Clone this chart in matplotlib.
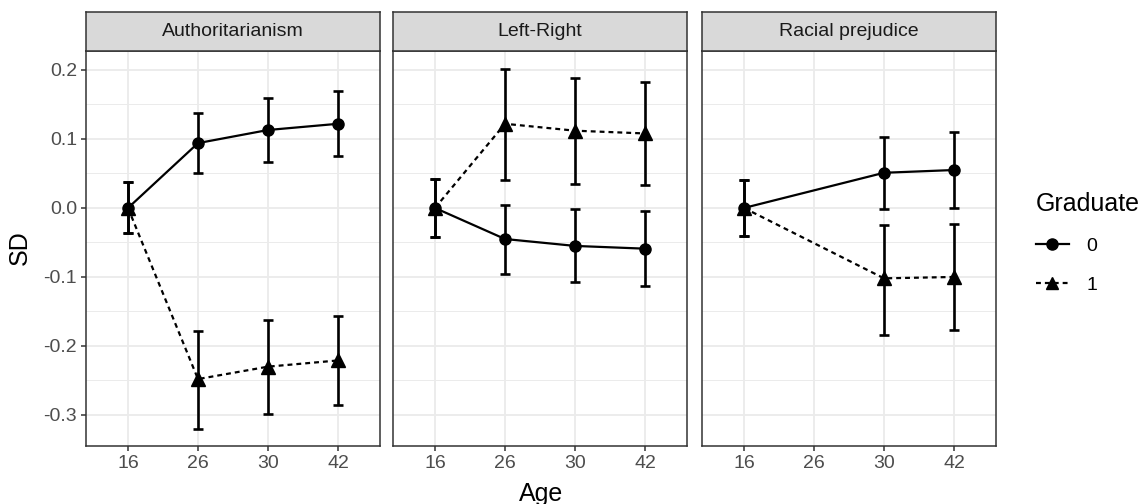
import matplotlib.pyplot as plt
import numpy as np

plt.rcParams["font.family"] = ["Liberation Sans", "DejaVu Sans"]

# data
ages = ["16", "26", "30", "42"]
panels = ["Authoritarianism", "Left-Right", "Racial prejudice"]
groups = ["0", "1"]

auth_g0 = [0.0, 0.094, 0.113, 0.122]
auth_g0_lo = [-0.037, 0.050, 0.066, 0.075]
auth_g0_hi = [0.037, 0.138, 0.159, 0.170]
auth_g1 = [0.0, -0.248, -0.230, -0.221]
auth_g1_lo = [-0.037, -0.320, -0.298, -0.286]
auth_g1_hi = [0.037, -0.178, -0.163, -0.156]

lr_g0 = [0.0, -0.045, -0.055, -0.059]
lr_g0_lo = [-0.042, -0.096, -0.108, -0.113]
lr_g0_hi = [0.042, 0.004, -0.002, -0.005]
lr_g1 = [0.0, 0.122, 0.112, 0.108]
lr_g1_lo = [-0.042, 0.040, 0.035, 0.033]
lr_g1_hi = [0.042, 0.202, 0.189, 0.182]

rp_g0 = [0.0, np.nan, 0.051, 0.055]
rp_g0_lo = [-0.041, np.nan, -0.002, 0.000]
rp_g0_hi = [0.041, np.nan, 0.103, 0.110]
rp_g1 = [0.0, np.nan, -0.102, -0.100]
rp_g1_lo = [-0.041, np.nan, -0.184, -0.177]
rp_g1_hi = [0.041, np.nan, -0.025, -0.023]

series = {
    "Authoritarianism": [(auth_g0, auth_g0_lo, auth_g0_hi), (auth_g1, auth_g1_lo, auth_g1_hi)],
    "Left-Right": [(lr_g0, lr_g0_lo, lr_g0_hi), (lr_g1, lr_g1_lo, lr_g1_hi)],
    "Racial prejudice": [(rp_g0, rp_g0_lo, rp_g0_hi), (rp_g1, rp_g1_lo, rp_g1_hi)],
}

dash = (0, (2.2, 1.8))
styles = [dict(marker="o", ms=8, ls="-"), dict(marker="^", ms=9.5, ls=dash)]

W, H = 1142, 504
fig = plt.figure(figsize=(W / 100, H / 100), dpi=100)

lefts = [86, 393, 702]
pw = 294
top, bottom, strip_top = 51, 446, 12
border = "#333333"

for i, name in enumerate(panels):
    ax = fig.add_axes([lefts[i] / W, 1 - bottom / H, pw / W, (bottom - top) / H])
    sax = fig.add_axes([lefts[i] / W, 1 - top / H, pw / W, (top - strip_top) / H])
    sax.set_facecolor("#D9D9D9")
    sax.set_xticks([])
    sax.set_yticks([])
    for s in sax.spines.values():
        s.set_color(border)
        s.set_linewidth(1.1)
    sax.text(0.5, 0.5, name, ha="center", va="center", fontsize=14, color="#1A1A1A",
             transform=sax.transAxes)

    x = np.arange(len(ages))
    for g, (vals, lo, hi) in enumerate(series[name]):
        vals = np.array(vals, dtype=float)
        lo = np.array(lo, dtype=float)
        hi = np.array(hi, dtype=float)
        ok = ~np.isnan(vals)
        st = styles[g]
        ax.errorbar(x[ok], vals[ok], yerr=[vals[ok] - lo[ok], hi[ok] - vals[ok]],
                    fmt="none", ecolor="black", elinewidth=1.9, capsize=3.5, capthick=1.9, zorder=3)
        ax.plot(x[ok], vals[ok], color="black", lw=1.6, linestyle=st["ls"], zorder=4)
        ax.plot(x[ok], vals[ok], color="black", lw=0, marker=st["marker"], ms=st["ms"], zorder=5)

    ax.set_xlim(-0.6, 3.6)
    ax.set_ylim(-0.345, 0.2275)
    ax.set_xticks(x)
    ax.set_xticklabels(ages)
    ax.set_yticks([-0.3, -0.2, -0.1, 0.0, 0.1, 0.2])
    ax.set_yticks([-0.25, -0.15, -0.05, 0.05, 0.15], minor=True)
    ax.set_yticklabels(["-0.3", "-0.2", "-0.1", "0.0", "0.1", "0.2"])
    ax.grid(True, which="major", color="#EBEBEB", lw=1.3, zorder=0)
    ax.grid(True, which="minor", axis="y", color="#EBEBEB", lw=0.7, zorder=0)
    ax.set_axisbelow(True)
    ax.tick_params(axis="both", which="major", length=3.5, width=1.1, color=border,
                   labelsize=14, labelcolor="#4D4D4D", pad=3)
    ax.tick_params(axis="y", which="minor", length=0)
    if i > 0:
        ax.tick_params(axis="y", which="major", length=0, labelleft=False)
    for s in ax.spines.values():
        s.set_color(border)
        s.set_linewidth(1.1)

fig.text(541 / W, 1 - 494 / H, "Age", ha="center", va="center", fontsize=18, color="black")
fig.text(20 / W, 1 - 248 / H, "SD", ha="center", va="center", rotation=90, fontsize=18, color="black")

handles = [
    plt.Line2D([], [], color="black", lw=1.6, ls="-", marker="o", ms=8),
    plt.Line2D([], [], color="black", lw=1.6, ls=dash, marker="^", ms=9),
]
leg = fig.legend(handles, groups, title="Graduate", loc="center left",
                 bbox_to_anchor=(1030 / W, 1 - 243 / H), frameon=False, fontsize=14,
                 title_fontsize=18, handlelength=1.7, handletextpad=0.9, labelspacing=1.1,
                 borderaxespad=0, borderpad=0.3)
leg._legend_box.align = "left"

fig.savefig("out.png", dpi=100)
